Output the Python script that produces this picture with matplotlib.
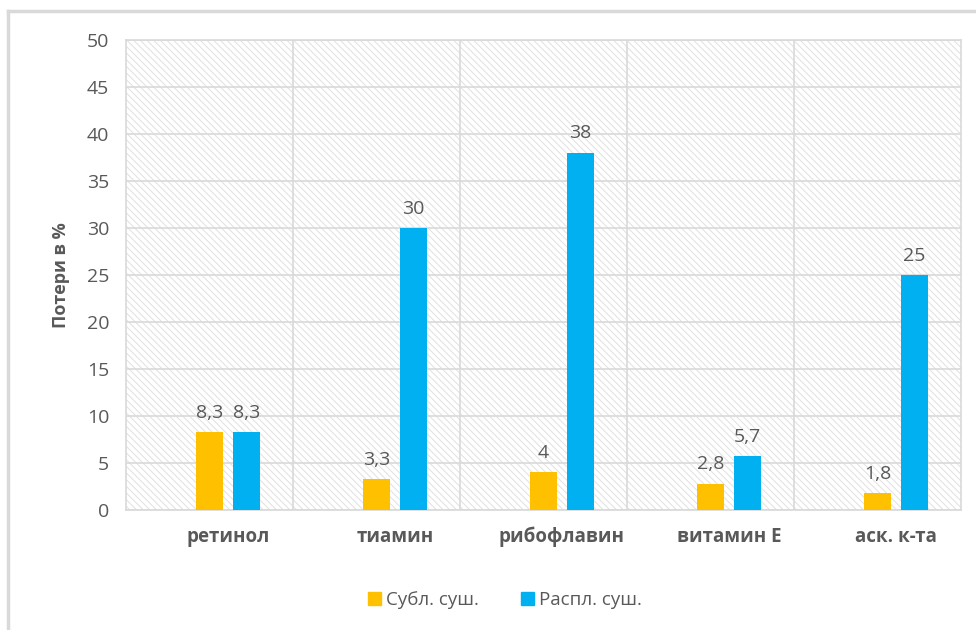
import matplotlib
matplotlib.use("Agg")
import matplotlib.pyplot as plt
import numpy as np
from matplotlib.lines import Line2D
from matplotlib.patches import Patch, Rectangle

categories = ['ретинол', 'тиамин', 'рибофлавин', 'витамин Е', 'аск. к-та']
subl = [8.3, 3.3, 4, 2.8, 1.8]
raspl = [8.3, 30, 38, 5.7, 25]
subl_labels = ['8,3', '3,3', '4', '2,8', '1,8']
raspl_labels = ['8,3', '30', '38', '5,7', '25']
series_names = ['Субл. суш.', 'Распл. суш.']
y_ticks = [0, 5, 10, 15, 20, 25, 30, 35, 40, 45, 50]

YELLOW = '#FFC000'
BLUE = '#00B0F0'
GRID = '#d9d9d9'
TEXT = '#595959'

plt.rcParams['font.family'] = ['Open Sans', 'DejaVu Sans']
plt.rcParams['hatch.linewidth'] = 0.7

fig = plt.figure(figsize=(9.76, 6.30), dpi=100)
W, H = 976, 630
ax = fig.add_axes([126 / W, 1 - 510 / H, (961 - 126) / W, (510 - 40) / H])

# chart outer border (left and top only visible)
fig.add_artist(Line2D([8 / W, 8 / W], [0, 1 - 11 / H], color=GRID, lw=2.5, transform=fig.transFigure))
fig.add_artist(Line2D([8 / W, 1], [1 - 11 / H, 1 - 11 / H], color=GRID, lw=2.5, transform=fig.transFigure))

# hatched plot area background
ax.add_patch(Rectangle((0, 0), 1, 1, transform=ax.transAxes, facecolor='white',
                       edgecolor='#e0e0e0', lw=0, hatch='\\\\\\\\\\', zorder=0))

x = np.arange(len(categories))
slot = 0.222
width = 0.162
b1 = ax.bar(x, subl, width, color=YELLOW, zorder=3)
b2 = ax.bar(x + slot, raspl, width, color=BLUE, zorder=3)

for rect, lab in zip(b1, subl_labels):
    ax.text(rect.get_x() + rect.get_width() / 2, rect.get_height() + 1.1, lab,
            ha='center', va='bottom', fontsize=14, color=TEXT, zorder=4)
for rect, lab in zip(b2, raspl_labels):
    ax.text(rect.get_x() + rect.get_width() / 2, rect.get_height() + 1.1, lab,
            ha='center', va='bottom', fontsize=14, color=TEXT, zorder=4)

ax.set_xlim(-0.5, len(categories) - 0.5)
ax.set_ylim(0, 50)
ax.set_yticks(y_ticks)
ax.set_xticks(x + 0.11)
ax.set_xticklabels(categories, fontsize=13.5, fontweight='bold', color=TEXT)
ax.tick_params(axis='y', labelsize=14, labelcolor=TEXT, length=0, pad=12)
ax.tick_params(axis='x', length=0, pad=12)

ax.grid(axis='y', color=GRID, lw=1.2, zorder=1)
for b in np.arange(0.5, len(categories) - 0.5, 1):
    ax.axvline(b, color=GRID, lw=1.2, zorder=1)
for s in ax.spines.values():
    s.set_color(GRID)
    s.set_linewidth(1.2)

ax.set_ylabel('Потери в %', fontsize=13, fontweight='bold', color=TEXT, labelpad=12)

handles = [Patch(color=YELLOW), Patch(color=BLUE)]
fig.legend(handles, series_names, loc='center', bbox_to_anchor=(505 / W, 1 - 600 / H),
           ncol=2, frameon=False, fontsize=13.5, labelcolor=TEXT,
           handlelength=0.7, handleheight=0.7, handletextpad=0.3, columnspacing=2.2)

fig.savefig('out.png', dpi=100)
